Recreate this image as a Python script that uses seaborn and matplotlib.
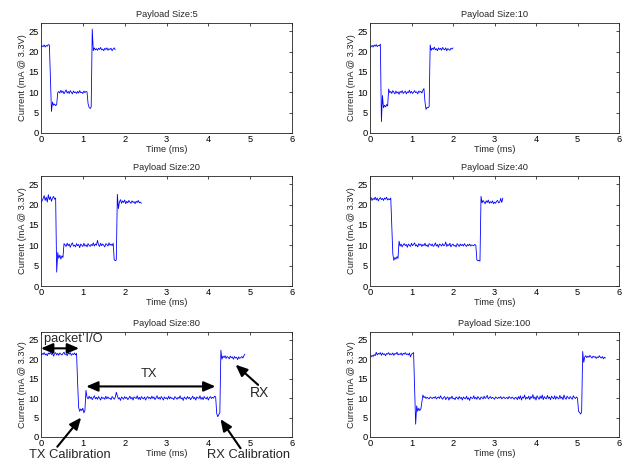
import numpy as np
import pandas as pd
import matplotlib
matplotlib.use("Agg")
import matplotlib.pyplot as plt
import seaborn as sns

# scope sample period (ms)
SAMPLE_MS = 0.025

payload_sizes = [5, 10, 20, 40, 80, 100]

# current readings (mA @ 3.3V), one per sample
current_5 = [
    21.0, 21.4, 21.2, 21.6, 21.1, 21.5, 21.3, 21.7, 21.6,
    13.6, 5.3,
    7.6, 6.8, 7.1, 6.7, 7.0,
    9.9,
    10.2, 9.8, 10.5, 9.9, 10.3, 9.6, 10.1, 10.6, 9.8, 10.2,
    9.7, 10.4, 10.0, 9.6, 10.3, 9.9, 10.1, 9.7, 10.2, 9.8,
    10.4, 9.9, 10.0, 9.7, 10.3, 9.9, 10.2, 10.1,
    7.2, 6.3, 6.0, 6.4,
    25.5,
    20.2, 20.9, 20.4, 20.7, 20.3, 20.8, 20.5, 21.0, 20.4, 20.6,
    20.2, 20.8, 20.5, 20.9, 20.3, 20.7, 20.5, 20.8, 20.2, 20.6,
    20.9, 20.4,
]

current_10 = [
    20.8, 21.2, 21.5, 21.1, 21.6, 21.3, 21.7, 21.2, 21.5, 21.4, 21.8,
    2.8, 9.2,
    6.2, 6.8, 6.4, 7.0, 6.6,
    10.8,
    9.9, 10.2, 9.7, 10.4, 10.0, 9.6, 10.3, 9.8, 10.1, 9.5,
    10.2, 9.9, 10.4, 9.7, 10.0, 10.3, 9.6, 10.1, 9.9, 10.5,
    9.8, 10.2, 9.7, 10.0, 10.4, 9.9, 10.1, 9.6, 10.3, 10.0,
    10.2, 9.8, 10.5, 10.9,
    7.6, 5.8, 6.3, 6.2, 6.5,
    21.6,
    20.3, 20.8, 20.5, 21.1, 20.4, 20.7, 20.2, 20.9, 20.5, 20.8,
    20.3, 21.0, 20.6, 20.4, 20.9, 20.2, 20.7, 20.5, 20.3, 20.8,
    20.6, 20.9,
]

current_20 = [
    20.5, 20.9, 21.4, 22.2, 21.0, 21.8, 20.6, 22.4, 21.2, 21.9,
    20.8, 21.6, 22.0, 21.3, 21.6,
    3.4, 8.2,
    6.8, 7.6, 6.6, 7.4, 7.0,
    10.4,
    10.1, 9.7, 10.5, 9.9, 10.3, 9.5, 10.2, 10.6, 9.8, 10.0,
    9.6, 10.4, 9.9, 10.2, 9.4, 10.3, 10.0, 9.7, 10.5, 9.8,
    10.1, 9.6, 10.4, 10.0, 9.7, 10.2, 9.9, 10.6, 9.8, 10.3,
    10.0, 11.2, 10.1, 9.7, 10.5, 9.9, 10.3, 10.0, 9.6, 10.4,
    10.2, 9.8, 10.6, 10.0, 10.3, 9.9, 10.5,
    6.5, 6.2, 6.4,
    22.5, 19.0,
    20.6, 21.2, 20.3, 20.9, 20.5, 21.1, 20.2, 20.8, 20.4, 21.0,
    20.6, 20.3, 20.9, 20.5, 20.7, 20.2, 20.8, 20.5, 21.0, 20.4,
    20.6, 20.3,
]

current_40 = [
    21.3, 21.7, 21.0, 21.5, 21.2, 21.8, 21.1, 21.6, 20.9, 21.4,
    21.7, 21.2, 21.5, 21.0, 21.6, 21.3, 21.8, 21.1, 21.4, 21.2, 21.6,
    14.5, 7.8,
    6.3, 7.0, 6.6, 7.2, 6.8,
    11.0,
    9.8, 10.3, 9.6, 10.1, 10.4, 9.9, 10.2, 9.5, 10.3, 10.0,
    9.7, 10.5, 9.9, 10.2, 10.6, 9.8, 10.1, 9.6, 10.4, 10.0,
    10.3, 9.7, 10.2, 9.9, 10.5, 9.8, 10.1, 9.6, 10.4, 10.2,
    9.9, 10.3, 9.7, 10.0, 10.6, 9.8, 10.2, 9.5, 10.3, 10.1,
    9.8, 10.4, 9.9, 10.0, 10.8, 9.7, 10.2, 9.9, 10.5, 9.6,
    10.1, 10.3, 9.8, 10.0, 9.6, 10.4, 10.1, 9.7, 10.3, 9.9,
    10.2, 9.8, 10.4, 10.0, 9.7, 10.2, 9.9, 10.3, 9.8, 10.1,
    10.0, 9.9, 10.2, 10.0,
    6.4, 6.2, 6.3, 6.1,
    22.0,
    20.4, 21.0, 20.6, 20.2, 20.9, 20.5, 21.1, 20.3, 20.7, 20.4,
    20.9, 20.2, 20.6, 20.3, 20.8, 21.0, 20.4, 20.6, 21.5, 20.5, 21.6,
]

current_80 = [
    21.0, 21.5, 21.2, 21.7, 21.1, 21.4, 20.9, 21.6, 21.3, 21.8,
    21.2, 21.6, 20.8, 21.4, 21.7, 21.1, 21.5, 21.0, 21.6, 21.3,
    21.1, 21.5, 21.8, 21.2, 21.4, 20.9, 21.6, 21.3, 21.7, 21.0,
    21.4, 21.2, 21.6, 21.1, 21.5,
    14.0, 7.6,
    6.6, 7.2, 6.8, 7.4, 6.2, 6.9,
    12.0,
    10.2, 9.8, 10.5, 9.9, 10.3, 9.6, 10.1, 10.6, 9.8, 10.2,
    9.7, 10.4, 10.0, 9.5, 10.3, 9.9, 10.1, 9.7, 10.5, 9.8,
    10.3, 9.9, 10.0, 9.6, 10.4, 10.1, 9.7, 10.2, 11.5, 10.6,
    9.8, 10.1, 9.4, 10.3, 10.0, 9.7, 10.4, 9.9, 10.2, 9.6,
    10.0, 10.5, 9.8, 10.2, 9.5, 10.3, 10.1, 9.9, 10.6, 9.7,
    10.2, 9.6, 10.4, 10.0, 9.8, 10.3, 9.5, 10.1, 10.4, 9.9,
    10.2, 9.8, 10.5, 9.9, 10.3, 9.6, 10.1, 10.6, 9.8, 10.2,
    9.7, 10.4, 10.0, 9.5, 10.3, 9.9, 10.1, 9.7, 10.5, 9.8,
    10.3, 9.9, 10.0, 9.6, 10.4, 10.1, 9.7, 10.2, 9.9, 10.6,
    9.8, 10.1, 9.4, 10.3, 10.0, 9.7, 10.4, 9.9, 10.2, 9.6,
    10.0, 10.5, 9.8, 10.2, 9.5, 10.3, 10.1, 9.9, 10.6, 9.7,
    10.2, 9.6, 10.4, 10.0, 9.8, 10.3, 9.5, 10.1, 10.4, 9.9,
    10.2, 10.0, 10.5, 10.3,
    6.1, 5.2, 5.8, 6.2,
    22.3, 20.0,
    20.8, 20.4, 20.9, 20.2, 20.7, 20.5, 20.1, 20.8, 20.4, 20.6,
    20.0, 20.7, 20.3, 20.5, 19.9, 20.6, 20.2, 20.4, 20.7, 20.3,
    20.9, 21.3,
]

current_100 = [
    20.8, 20.6, 21.0, 20.7, 21.2, 20.9, 21.8, 21.1, 21.5, 21.3,
    21.7, 21.0, 21.6, 21.2, 21.4, 20.9, 21.5, 21.3, 21.7, 21.1,
    21.4, 21.2, 21.6, 21.0, 21.5, 21.3, 21.8, 21.1, 21.4, 21.2,
    21.6, 21.0, 21.5, 21.3, 21.7, 21.2, 21.4, 21.1, 21.6, 20.6,
    21.3, 21.5, 21.7,
    12.0, 3.3, 8.0,
    6.6, 7.4, 6.8, 7.2,
    9.0, 10.8,
    10.1, 10.4, 9.9, 10.2, 10.0, 9.8, 10.3, 10.1, 9.9, 10.2,
    10.0, 10.4, 9.8, 10.1, 10.3, 9.9, 10.6, 10.0, 9.7, 10.2,
    10.4, 9.6, 10.1, 10.3, 9.5, 10.2, 9.9, 10.5, 9.8, 10.0,
    9.6, 10.3, 10.1, 9.7, 10.4, 9.9, 10.2, 9.5, 10.3, 10.0,
    9.8, 10.5, 9.7, 10.1, 9.4, 10.3, 10.0, 9.9, 10.6, 9.8,
    10.2, 9.7, 10.4, 10.0, 9.6, 10.3, 10.1, 9.8, 10.5, 9.9,
    10.2, 10.7, 9.8, 10.1, 10.4, 9.9, 10.2, 10.0, 9.7, 10.3,
    10.1, 9.9, 10.2, 10.0, 10.4, 9.8, 10.1, 10.3, 9.9, 10.0,
    10.2, 9.8, 10.4, 10.1, 9.9, 10.3, 10.0, 9.7, 10.2, 10.1,
    9.6, 10.4, 9.8, 10.6, 9.5, 10.3, 10.0, 10.8, 9.7, 10.2,
    9.9, 10.5, 9.6, 10.4, 10.0, 10.9, 9.8, 10.3, 9.5, 10.6,
    10.1, 9.7, 10.5, 9.9, 10.8, 9.6, 10.4, 10.0, 9.8, 10.7,
    9.9, 10.3, 9.6, 10.5, 10.1, 9.8, 10.6, 9.7, 10.4, 10.0,
    9.8, 10.7, 9.9, 10.3, 9.6, 10.8, 10.0, 9.7, 10.5, 10.1,
    9.8, 10.4, 10.0, 9.7, 10.6, 10.1, 9.9, 10.3, 10.0,
    6.6, 6.3, 5.9, 6.5,
    22.0, 19.2,
    20.6, 20.9, 20.4, 20.8, 20.5, 21.0, 20.6, 20.3, 20.8, 20.5,
    20.7, 20.2, 20.6, 20.4, 20.9, 20.5, 20.3, 20.7, 20.1, 20.5, 20.3,
]

traces = [current_5, current_10, current_20, current_40, current_80, current_100]

sns.set_theme(style="white")
plt.rcParams["font.family"] = ["Liberation Sans", "DejaVu Sans"]
plt.rcParams["xtick.direction"] = "in"
plt.rcParams["ytick.direction"] = "in"

fig = plt.figure(figsize=(6.27, 4.66), dpi=100)
W, H = 627.0, 466.0

cols = [(41, 292), (370, 619)]
rows = [(23, 133), (176, 286), (332, 437)]

axes = []
for i, (size, cur) in enumerate(zip(payload_sizes, traces)):
    x0, x1 = cols[i % 2]
    y0, y1 = rows[i // 2]
    ax = fig.add_axes([x0 / W, 1 - y1 / H, (x1 - x0) / W, (y1 - y0) / H])
    df = pd.DataFrame({"t": np.arange(len(cur)) * SAMPLE_MS, "i": cur})
    sns.lineplot(data=df, x="t", y="i", ax=ax, color="#0000ff", lw=0.6,
                 sort=False, estimator=None)
    ax.set_xlim(0, 6)
    ax.set_ylim(0, 27)
    ax.set_xticks(range(0, 7))
    ax.set_yticks(range(0, 26, 5))
    ax.tick_params(labelsize=6.7, length=2.5, width=0.5, pad=1.5,
                   top=True, right=True, colors="black")
    for s in ax.spines.values():
        s.set_color("#222222")
        s.set_linewidth(0.6)
    ax.set_title("Payload Size:%d" % size, fontsize=6.7, pad=4)
    ax.set_xlabel("Time (ms)", fontsize=6.7, labelpad=1)
    ax.set_ylabel("Current (mA @ 3.3V)", fontsize=6.7, labelpad=1)
    axes.append(ax)

# annotations on the payload 80 panel
ax = axes[4]
head = dict(color="black", lw=1.5, shrinkA=0, shrinkB=0, mutation_scale=10)
ax.annotate("", xy=(0.0, 22.8), xytext=(0.91, 22.8), annotation_clip=False,
            arrowprops=dict(arrowstyle="<|-|>,head_length=0.7,head_width=0.3", **head))
ax.annotate("", xy=(1.08, 13.0), xytext=(4.17, 13.0), annotation_clip=False,
            arrowprops=dict(arrowstyle="<|-|>,head_length=0.7,head_width=0.3", **head))
ax.annotate("", xy=(0.96, 5.0), xytext=(0.39, -2.5), annotation_clip=False,
            arrowprops=dict(arrowstyle="-|>,head_length=0.7,head_width=0.3", **head))
ax.annotate("", xy=(4.29, 4.6), xytext=(4.77, -2.9), annotation_clip=False,
            arrowprops=dict(arrowstyle="-|>,head_length=0.7,head_width=0.3", **head))
ax.annotate("", xy=(4.65, 18.6), xytext=(5.19, 13.4), annotation_clip=False,
            arrowprops=dict(arrowstyle="-|>,head_length=0.7,head_width=0.3", **head))

ax.text(0.08, 25.2, "packet I/O", fontsize=9.3, ha="left", va="center", clip_on=False)
ax.text(2.59, 16.2, "TX", fontsize=9.3, ha="center", va="center", clip_on=False)
ax.text(5.23, 11.4, "RX", fontsize=10, ha="center", va="center", clip_on=False)
ax.text(-0.29, -4.5, "TX Calibration", fontsize=9.3, ha="left", va="center", clip_on=False)
ax.text(3.97, -4.7, "RX Calibration", fontsize=9.3, ha="left", va="center", clip_on=False)

fig.savefig("out.png", dpi=100)
